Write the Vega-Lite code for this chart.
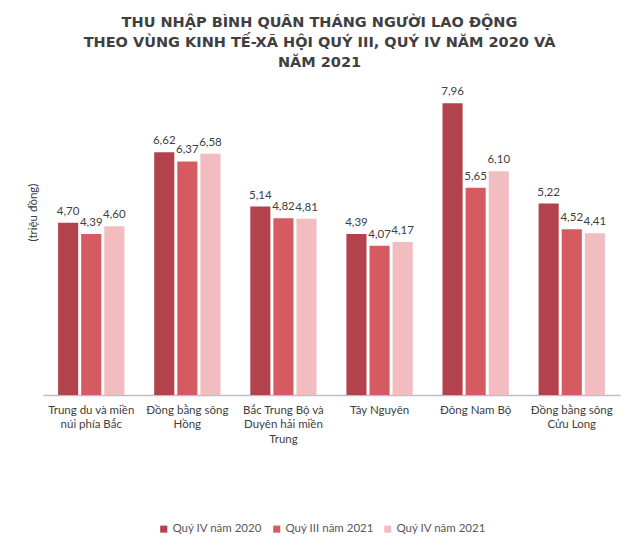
{
  "$schema": "https://vega.github.io/schema/vega-lite/v6.json",
  "autosize": {"type": "none"},
  "width": 577,
  "height": 330,
  "padding": {"left": 43, "top": 65, "right": 20, "bottom": 155},
  "background": "#ffffff",
  "config": {
    "font": "Lato",
    "view": {"stroke": null},
    "locale": {"number": {"decimal": ",", "thousands": ".", "grouping": [3], "currency": ["", " đ"]}}
  },
  "title": {
    "text": ["THU NHẬP BÌNH QUÂN THÁNG NGƯỜI LAO ĐỘNG", "THEO VÙNG KINH TẾ-XÃ HỘI QUÝ III, QUÝ IV NĂM 2020 VÀ", "NĂM 2021"],
    "font": "DejaVu Sans",
    "fontSize": 14.5,
    "fontWeight": "bold",
    "color": "#404040",
    "lineHeight": 20,
    "anchor": "middle",
    "frame": "group",
    "dx": -12,
    "offset": -5
  },
  "data": {
    "values": [
      {"region": "Trung du và miền|núi phía Bắc", "series": "Quý IV năm 2020", "value": 4.70},
      {"region": "Trung du và miền|núi phía Bắc", "series": "Quý III năm 2021", "value": 4.39},
      {"region": "Trung du và miền|núi phía Bắc", "series": "Quý IV năm 2021", "value": 4.60},
      {"region": "Đồng bằng sông|Hồng", "series": "Quý IV năm 2020", "value": 6.62},
      {"region": "Đồng bằng sông|Hồng", "series": "Quý III năm 2021", "value": 6.37},
      {"region": "Đồng bằng sông|Hồng", "series": "Quý IV năm 2021", "value": 6.58},
      {"region": "Bắc Trung Bộ và|Duyên hải miền|Trung", "series": "Quý IV năm 2020", "value": 5.14},
      {"region": "Bắc Trung Bộ và|Duyên hải miền|Trung", "series": "Quý III năm 2021", "value": 4.82},
      {"region": "Bắc Trung Bộ và|Duyên hải miền|Trung", "series": "Quý IV năm 2021", "value": 4.81},
      {"region": "Tây Nguyên", "series": "Quý IV năm 2020", "value": 4.39},
      {"region": "Tây Nguyên", "series": "Quý III năm 2021", "value": 4.07},
      {"region": "Tây Nguyên", "series": "Quý IV năm 2021", "value": 4.17},
      {"region": "Đông Nam Bộ", "series": "Quý IV năm 2020", "value": 7.96},
      {"region": "Đông Nam Bộ", "series": "Quý III năm 2021", "value": 5.65},
      {"region": "Đông Nam Bộ", "series": "Quý IV năm 2021", "value": 6.10},
      {"region": "Đồng bằng sông|Cửu Long", "series": "Quý IV năm 2020", "value": 5.22},
      {"region": "Đồng bằng sông|Cửu Long", "series": "Quý III năm 2021", "value": 4.52},
      {"region": "Đồng bằng sông|Cửu Long", "series": "Quý IV năm 2021", "value": 4.41}
    ]
  },
  "encoding": {
    "x": {
      "field": "region",
      "type": "nominal",
      "sort": null,
      "scale": {"paddingInner": 0.31, "paddingOuter": 0.157},
      "axis": {
        "title": null,
        "labelAngle": 0,
        "labelExpr": "split(datum.label, '|')",
        "labelFont": "Lato",
        "labelFontSize": 11.5,
        "labelColor": "#404040",
        "labelPadding": 9,
        "labelLineHeight": 14.5,
        "labelLimit": 200,
        "ticks": false,
        "domainColor": "#BFBFBF",
        "domainWidth": 1.5
      }
    },
    "xOffset": {
      "field": "series",
      "type": "nominal",
      "sort": ["Quý IV năm 2020", "Quý III năm 2021", "Quý IV năm 2021"],
      "scale": {"paddingInner": 0.13, "paddingOuter": 0}
    },
    "y": {
      "field": "value",
      "type": "quantitative",
      "scale": {"domain": [0, 9], "nice": false},
      "axis": {
        "title": "(triệu đồng)",
        "titleFont": "Lato",
        "titleFontSize": 11.5,
        "titleFontWeight": "normal",
        "titleColor": "#404040",
        "titleX": -10,
        "titleY": 147,
        "titleAlign": "center",
        "titleBaseline": "middle",
        "titleAngle": -90,
        "labels": false,
        "ticks": false,
        "domain": false,
        "grid": false
      }
    }
  },
  "layer": [
    {
      "mark": {"type": "bar"},
      "encoding": {
        "color": {
          "field": "series",
          "type": "nominal",
          "sort": ["Quý IV năm 2020", "Quý III năm 2021", "Quý IV năm 2021"],
          "scale": {"domain": ["Quý IV năm 2020", "Quý III năm 2021", "Quý IV năm 2021"], "range": ["#B2434C", "#D65A61", "#F1BDC1"]},
          "legend": {
            "title": null,
            "orient": "none",
            "direction": "horizontal",
            "legendX": 115,
            "legendY": 458,
            "symbolType": "square",
            "symbolSize": 50,
            "labelFont": "Lato",
            "labelFontSize": 11.5,
            "labelColor": "#595959",
            "labelOffset": 3,
            "columnPadding": 8,
            "padding": 0
          }
        }
      }
    },
    {
      "mark": {"type": "text", "baseline": "bottom", "dy": -6, "fontSize": 11.5, "color": "#404040", "font": "Lato"},
      "encoding": {
        "text": {"field": "value", "type": "quantitative", "format": ".2f"}
      }
    }
  ]
}
